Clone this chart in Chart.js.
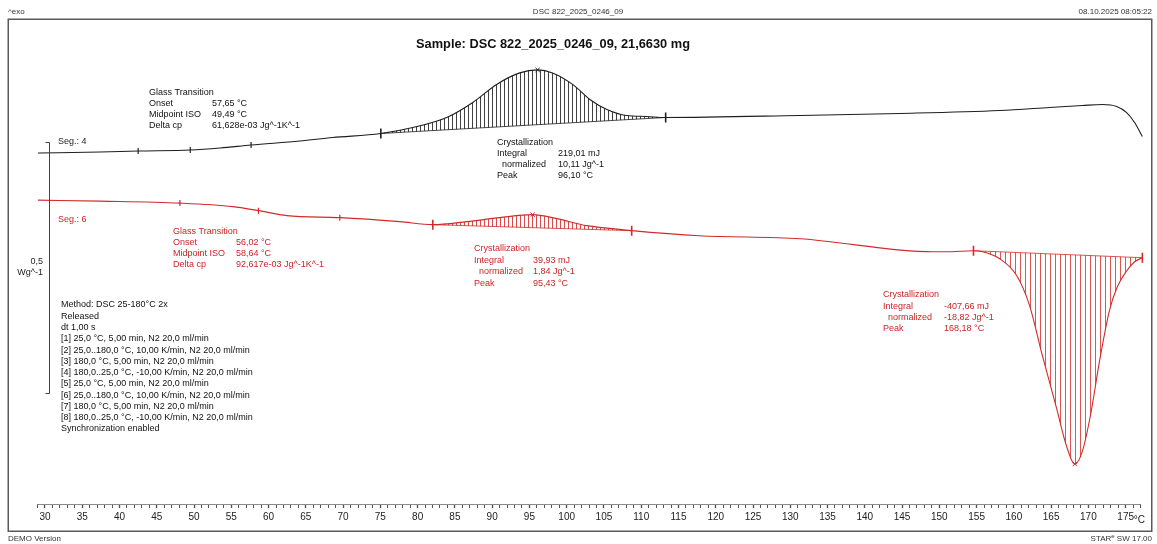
<!DOCTYPE html>
<html>
<head>
<meta charset="utf-8">
<script src="https://cdn.jsdelivr.net/npm/chart.js@4.4.1/dist/chart.umd.min.js"></script>
<style>
  html, body { margin: 0; padding: 0; background: #ffffff; overflow: hidden; }
  canvas { display: block; }
</style>
</head>
<body>
<canvas id="dsc" width="1157" height="544"></canvas>
<script>
// Seg. 4 – temperature (°C) and heat flow (W/g)
const seg4Temp = [29.06, 37.4, 42.5, 49.49, 53.5, 57.65, 64.2, 68.6, 75.06, 79.35, 83.9, 87.4, 90.6, 93.7, 96.10,
  98.1, 100.8, 103.1, 105.4, 108.0, 110.7, 113.28, 131.3, 144.7, 158.1, 164.8, 169.2, 171.9, 173.8, 175.1, 176.2, 177.24];
const seg4Flow = [0.290, 0.292, 0.294, 0.296, 0.300, 0.306, 0.314, 0.321, 0.329, 0.341, 0.361, 0.391, 0.427, 0.450, 0.456,
  0.450, 0.427, 0.397, 0.377, 0.365, 0.363, 0.361, 0.365, 0.369, 0.375, 0.381, 0.385, 0.387, 0.383, 0.371, 0.351, 0.323];

// Seg. 6 – temperature (°C) and heat flow (W/g)
const seg6Temp = [29.06, 37.4, 48.10, 55.2, 58.64, 62.45, 69.56, 77.6, 82.03, 86.6, 91.0, 95.43, 98.7, 102.7, 106.2,
  108.72, 117.8, 131.3, 149.1, 151.0, 154.58, 155.8, 158.1, 160.35, 162.1, 163.8, 165.7, 167.0, 168.18, 169.2, 170.3,
  171.5, 172.8, 173.8, 175.1, 176.2, 177.24];
const seg6Flow = [0.196, 0.194, 0.190, 0.183, 0.175, 0.165, 0.161, 0.153, 0.147, 0.153, 0.161, 0.167, 0.159, 0.145, 0.139,
  0.135, 0.125, 0.119, 0.093, 0.093, 0.095, 0.093, 0.079, 0.046, -0.014, -0.113, -0.218, -0.292, -0.331, -0.305, -0.232,
  -0.125, -0.026, 0.020, 0.054, 0.073, 0.081];

// Evaluation marks (°C)
const seg4GlassMarks = [42.5, 49.49, 57.65];
const seg4CrystLimits = [75.06, 113.28];
const seg4CrystPeak = [96.10];
const seg6GlassMarks = [48.10, 58.64, 69.56];
const seg6CrystLimitsA = [82.03, 108.72];
const seg6CrystPeakA = [95.43];
const seg6CrystLimitsB = [154.58, 177.24];
const seg6CrystPeakB = [168.18];

// Temperature axis: labelled ticks and the span of the 1 °C ruler (°C)
const tempLabels = [30, 35, 40, 45, 50, 55, 60, 65, 70, 75, 80, 85, 90, 95, 100, 105, 110, 115, 120, 125, 130, 135, 140,
  145, 150, 155, 160, 165, 170, 175];
const rulerSpan = [29, 177];

// Evaluation result tables
const seg4Glass = ['Glass Transition', ['Onset', '57,65 °C'], ['Midpoint ISO', '49,49 °C'], ['Delta cp', '61,628e-03 Jg^-1K^-1']];
const seg4Cryst = ['Crystallization', ['Integral', '219,01 mJ'], ['  normalized', '10,11 Jg^-1'], ['Peak', '96,10 °C']];
const seg6Glass = ['Glass Transition', ['Onset', '56,02 °C'], ['Midpoint ISO', '58,64 °C'], ['Delta cp', '92,617e-03 Jg^-1K^-1']];
const seg6CrystA = ['Crystallization', ['Integral', '39,93 mJ'], ['  normalized', '1,84 Jg^-1'], ['Peak', '95,43 °C']];
const seg6CrystB = ['Crystallization', ['Integral', '-407,66 mJ'], ['  normalized', '-18,82 Jg^-1'], ['Peak', '168,18 °C']];

const methodLines = [
  'Method: DSC 25-180°C 2x',
  'Released',
  'dt 1,00 s',
  '[1] 25,0 °C, 5,00 min, N2 20,0 ml/min',
  '[2] 25,0..180,0 °C, 10,00 K/min, N2 20,0 ml/min',
  '[3] 180,0 °C, 5,00 min, N2 20,0 ml/min',
  '[4] 180,0..25,0 °C, -10,00 K/min, N2 20,0 ml/min',
  '[5] 25,0 °C, 5,00 min, N2 20,0 ml/min',
  '[6] 25,0..180,0 °C, 10,00 K/min, N2 20,0 ml/min',
  '[7] 180,0 °C, 5,00 min, N2 20,0 ml/min',
  '[8] 180,0..25,0 °C, -10,00 K/min, N2 20,0 ml/min',
  'Synchronization enabled'
];

const BLACK = '#1e1e1e';
const RED = '#d22a2a';
const RED_TEXT = '#cc2424';
const FONT = '"Liberation Sans", Arial, sans-serif';

function toPoints(temps, flows) {
  return temps.map((t, i) => ({ x: t, y: flows[i] }));
}
function pick(temps, flows, marks) {
  return marks.map(m => ({ x: m, y: flows[temps.indexOf(m)] }));
}
function between(temps, flows, lims) {
  return toPoints(temps, flows).filter(p => p.x >= lims[0] && p.x <= lims[1]);
}
function hatch(color, gap) {
  const c = document.createElement('canvas');
  c.width = gap; c.height = 4;
  const g = c.getContext('2d');
  g.fillStyle = color;
  g.fillRect(0, 0, 1, 4);
  return g.createPattern(c, 'repeat');
}

const curveStyle = { pointRadius: 0, cubicInterpolationMode: 'monotone', fill: false };

function baseline(temps, flows, lims, color) {
  return { data: pick(temps, flows, lims), borderColor: color, borderWidth: 0.8, pointRadius: 0, fill: false };
}
function peakArea(temps, flows, lims, pattern) {
  return { data: between(temps, flows, lims), borderColor: 'transparent', backgroundColor: pattern,
    pointRadius: 0, cubicInterpolationMode: 'monotone', fill: '-1' };
}
function marks(temps, flows, list, color, style, radius, rotation, width) {
  return { data: pick(temps, flows, list), showLine: false, pointStyle: style, pointRadius: radius,
    pointRotation: rotation, borderColor: color, backgroundColor: color, pointBorderWidth: width, borderWidth: width };
}

const datasets = [
  baseline(seg4Temp, seg4Flow, seg4CrystLimits, BLACK),
  peakArea(seg4Temp, seg4Flow, seg4CrystLimits, hatch('rgba(30,30,30,0.85)', 4)),
  baseline(seg6Temp, seg6Flow, seg6CrystLimitsA, RED),
  peakArea(seg6Temp, seg6Flow, seg6CrystLimitsA, hatch('rgba(210,42,42,0.85)', 4)),
  baseline(seg6Temp, seg6Flow, seg6CrystLimitsB, RED),
  peakArea(seg6Temp, seg6Flow, seg6CrystLimitsB, hatch('rgba(210,42,42,0.8)', 5)),
  Object.assign({ data: toPoints(seg4Temp, seg4Flow), borderColor: BLACK, borderWidth: 1.1 }, curveStyle),
  Object.assign({ data: toPoints(seg6Temp, seg6Flow), borderColor: RED, borderWidth: 1.1 }, curveStyle),
  marks(seg4Temp, seg4Flow, seg4GlassMarks, BLACK, 'line', 3, 90, 1.2),
  marks(seg4Temp, seg4Flow, seg4CrystLimits, BLACK, 'line', 5, 90, 1.6),
  marks(seg4Temp, seg4Flow, seg4CrystPeak, BLACK, 'crossRot', 3, 0, 1),
  marks(seg6Temp, seg6Flow, seg6GlassMarks, RED, 'line', 3, 90, 1.2),
  marks(seg6Temp, seg6Flow, seg6CrystLimitsA, RED, 'line', 5, 90, 1.6),
  marks(seg6Temp, seg6Flow, seg6CrystPeakA, RED, 'crossRot', 3, 0, 1),
  marks(seg6Temp, seg6Flow, seg6CrystLimitsB, RED, 'line', 5, 90, 1.6),
  marks(seg6Temp, seg6Flow, seg6CrystPeakB, RED, 'crossRot', 3, 0, 1)
];

function drawTable(ctx, x, y, color, table, valueOffset, step) {
  ctx.fillStyle = color;
  ctx.fillText(table[0], x, y);
  for (let i = 1; i < table.length; i++) {
    const [label, value] = table[i];
    const indent = label.startsWith('  ') ? 5 : 0;
    ctx.fillText(label.trim(), x + indent, y + i * step);
    ctx.fillText(value, x + valueOffset, y + i * step);
  }
}

const sheet = {
  id: 'sheet',
  afterDraw(chart) {
    const ctx = chart.ctx;
    const xs = chart.scales.x, ys = chart.scales.y;
    ctx.save();
    // frame
    ctx.strokeStyle = '#5a5a5a';
    ctx.lineWidth = 1.5;
    ctx.strokeRect(8.25, 19.25, 1143.5, 512);

    // ruler line along the tops of the temperature ticks
    ctx.strokeStyle = '#8a8a8a';
    ctx.lineWidth = 1;
    ctx.beginPath();
    ctx.moveTo(xs.getPixelForValue(rulerSpan[0]), xs.top + 0.5);
    ctx.lineTo(xs.getPixelForValue(rulerSpan[1]), xs.top + 0.5);
    ctx.stroke();

    ctx.textBaseline = 'middle';
    // header line
    ctx.font = '8px ' + FONT;
    ctx.fillStyle = '#333';
    ctx.textAlign = 'left';
    ctx.fillText('^exo', 8, 12);
    ctx.textAlign = 'center';
    ctx.fillText('DSC 822_2025_0246_09', 578, 12);
    ctx.textAlign = 'right';
    ctx.fillText('08.10.2025 08:05:22', 1152, 12);

    // sample title
    ctx.textAlign = 'center';
    ctx.fillStyle = '#111';
    ctx.font = 'bold 12.8px ' + FONT;
    ctx.fillText('Sample: DSC 822_2025_0246_09, 21,6630 mg', 553, 44);

    // unit after the last temperature label
    ctx.font = '10px ' + FONT;
    ctx.textAlign = 'left';
    ctx.fillStyle = '#222';
    ctx.fillText('°C', xs.getPixelForValue(175) + 8, 520);

    // scale bar: 0,5 W/g
    const barTop = 0.3115;
    const yTop = Math.round(ys.getPixelForValue(barTop)) + 0.5;
    const yBot = Math.round(ys.getPixelForValue(barTop - 0.5)) + 0.5;
    const bx = 49.5;
    ctx.strokeStyle = '#444';
    ctx.lineWidth = 1;
    ctx.beginPath();
    ctx.moveTo(bx - 4, yTop); ctx.lineTo(bx, yTop); ctx.lineTo(bx, yBot); ctx.lineTo(bx - 4, yBot);
    ctx.stroke();
    ctx.font = '9px ' + FONT;
    ctx.fillStyle = '#222';
    ctx.textAlign = 'right';
    ctx.fillText('0,5', 43, (yTop + yBot) / 2 - 6);
    ctx.fillText('Wg^-1', 43, (yTop + yBot) / 2 + 5);

    // segment labels and evaluation tables
    ctx.textAlign = 'left';
    ctx.fillStyle = BLACK;
    ctx.fillText('Seg.: 4', 58, 142);
    ctx.fillStyle = RED_TEXT;
    ctx.fillText('Seg.: 6', 58, 220);

    drawTable(ctx, 149, 93, '#111', seg4Glass, 63, 11);
    drawTable(ctx, 497, 143, '#111', seg4Cryst, 61, 11);
    drawTable(ctx, 173, 232, RED_TEXT, seg6Glass, 63, 11);
    drawTable(ctx, 474, 249, RED_TEXT, seg6CrystA, 59, 11.5);
    drawTable(ctx, 883, 295, RED_TEXT, seg6CrystB, 61, 11.3);

    // method description
    ctx.fillStyle = '#111';
    methodLines.forEach((line, i) => ctx.fillText(line, 61, 305 + i * 11.27));

    // footer
    ctx.font = '8px ' + FONT;
    ctx.fillStyle = '#333';
    ctx.fillText('DEMO Version', 8, 539);
    ctx.textAlign = 'right';
    const tail = ' SW 17.00';
    const tailW = ctx.measureText(tail).width;
    ctx.fillText(tail, 1152, 539);
    ctx.font = '6px ' + FONT;
    const eW = ctx.measureText('e').width;
    ctx.fillText('e', 1152 - tailW, 536);
    ctx.font = '8px ' + FONT;
    ctx.fillText('STAR', 1152 - tailW - eW, 539);
    ctx.restore();
  }
};

new Chart(document.getElementById('dsc'), {
  type: 'line',
  data: { datasets },
  options: {
    responsive: false,
    animation: false,
    devicePixelRatio: 1,
    layout: { padding: { left: 9, right: 6, top: 20, bottom: 18 } },
    plugins: { legend: { display: false }, tooltip: { enabled: false }, title: { display: false } },
    elements: { line: { tension: 0 } },
    scales: {
      x: {
        type: 'linear',
        min: 25.17,
        max: 178.32,
        afterBuildTicks(scale) {
          const ticks = [];
          for (let t = rulerSpan[0]; t <= rulerSpan[1]; t++) ticks.push({ value: t });
          scale.ticks = ticks;
        },
        grid: {
          drawOnChartArea: false,
          drawTicks: true,
          tickLength: 4,
          tickColor: '#555',
          tickWidth: (c) => (c.tick && tempLabels.includes(c.tick.value) ? 1.4 : 1)
        },
        border: { display: false },
        ticks: {
          autoSkip: false,
          maxRotation: 0,
          minRotation: 0,
          padding: 3,
          color: '#222',
          font: { family: FONT, size: 10 },
          callback: (v) => (tempLabels.includes(v) ? String(v) : '')
        }
      },
      y: { type: 'linear', display: false, min: -0.4107, max: 0.5556 }
    }
  },
  plugins: [sheet]
});
</script>
</body>
</html>
